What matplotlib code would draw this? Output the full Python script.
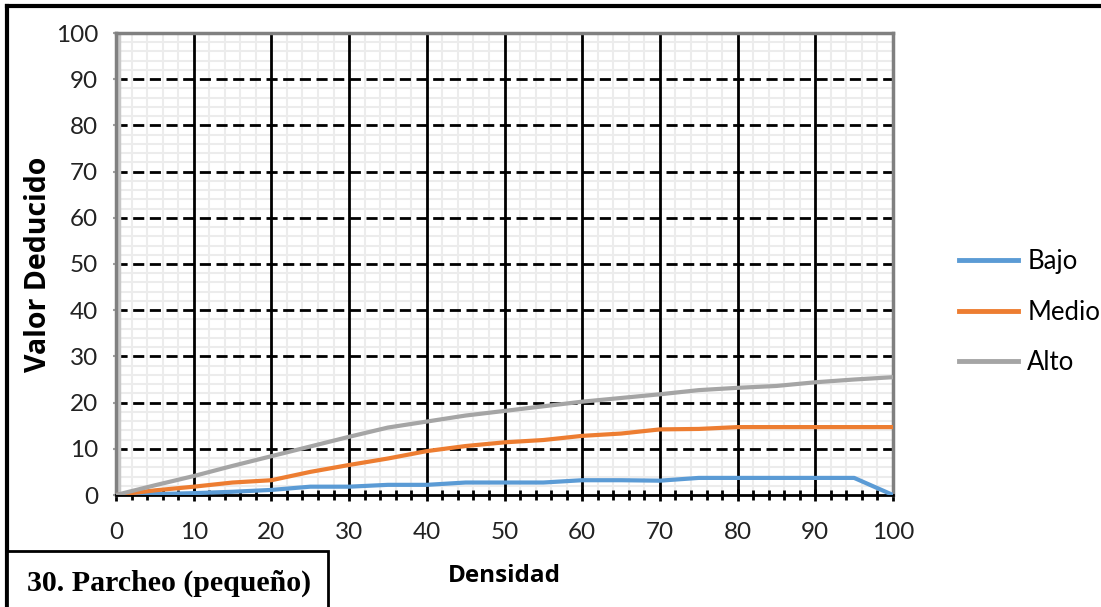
import matplotlib
matplotlib.use("Agg")
import matplotlib.pyplot as plt
from matplotlib.lines import Line2D
from matplotlib.patches import Rectangle

densidad = [0, 5, 10, 15, 20, 25, 30, 35, 40, 45, 50, 55, 60, 65, 70, 75, 80, 85, 90, 95, 100]
bajo = [0, 0.2, 0.4, 0.7, 1.1, 1.8, 1.8, 2.2, 2.2, 2.7, 2.7, 2.7, 3.2, 3.2, 3.1, 3.7, 3.7, 3.7, 3.7, 3.7, 0]
medio = [0, 1.0, 1.8, 2.7, 3.2, 5.0, 6.5, 7.9, 9.5, 10.6, 11.4, 11.9, 12.8, 13.3, 14.2, 14.3, 14.7, 14.7, 14.7, 14.7, 14.7]
alto = [0, 2.1, 4.1, 6.3, 8.4, 10.5, 12.6, 14.6, 15.9, 17.2, 18.2, 19.2, 20.2, 21.0, 21.8, 22.7, 23.2, 23.6, 24.4, 25.0, 25.5]
series_names = ["Bajo", "Medio", "Alto"]
ticks = list(range(0, 101, 10))
title_text = "30. Parcheo (pequeño)"

colors = ["#5b9bd5", "#ed7d31", "#a5a5a5"]

W, H = 1101, 607
fig = plt.figure(figsize=(W / 100, H / 100), dpi=100)
ax = fig.add_axes([116/W, 1-495/H, (893-116)/W, (495-33)/H])

# minor grid
for v in range(2, 100, 2):
    if v % 10:
        ax.axvline(v, color="#ececec", lw=1.5, zorder=0)
        ax.axhline(v, color="#ececec", lw=1.5, zorder=0)
for v in range(10, 100, 10):
    ax.axvline(v, color="black", lw=2, zorder=1)
    ax.axhline(v, color="black", lw=2, ls=(0, (4, 2)), zorder=1)

ax.axvline(0.4, color="#c8c8c8", lw=2.5, zorder=2)

for y, c, n in zip([bajo, medio, alto], colors, series_names):
    ax.plot(densidad, y, color=c, lw=3, label=n, zorder=3, solid_capstyle="round")

ax.set_xlim(0, 100)
ax.set_ylim(0, 100)
ax.set_xticks(ticks)
ax.set_yticks(ticks)
ax.set_xticks(range(0, 101, 2), minor=True)
ax.tick_params(axis="x", which="major", length=9, width=2, color="black", direction="inout", labelsize=17.5, pad=15)
ax.tick_params(axis="x", which="minor", length=7, width=2, color="black", direction="inout")
ax.tick_params(axis="y", which="major", length=4, width=1.5, color="#a0a0a0", direction="inout", labelsize=17.5, pad=11)
for lab in ax.get_xticklabels() + ax.get_yticklabels():
    lab.set_fontfamily("Lato")
    lab.set_color("#222222")

for s in ["top", "right", "left"]:
    ax.spines[s].set_color("#808080")
    ax.spines[s].set_linewidth(2.5)
ax.spines["bottom"].set_color("black")
ax.spines["bottom"].set_linewidth(2)

ax.set_xlabel("Densidad", fontsize=17.5, fontweight="bold", family="Open Sans", labelpad=15)
ax.set_ylabel("Valor Deducido", fontsize=20.5, fontweight="bold", family="Open Sans", labelpad=2)

handles = [Line2D([0], [0], color=c, lw=3.5) for c in colors]
leg = fig.legend(handles, series_names, loc="center left", bbox_to_anchor=(936/W, 1-312/H),
                 frameon=False, handlelength=2.3, labelspacing=1.0, handletextpad=0.35,
                 prop={"family": "Lato", "size": 18.5})

# outer border (top and left)
fig.lines.append(Line2D([7/W, 1], [1-6/H, 1-6/H], transform=fig.transFigure, color="black", lw=3))
fig.lines.append(Line2D([7/W, 7/W], [0, 1-6/H], transform=fig.transFigure, color="black", lw=3))
fig.patches.append(Rectangle((7/W, -0.01), (328-7)/W, (607-551)/H + 0.01,
                             transform=fig.transFigure, facecolor="white", edgecolor="black", lw=2, zorder=5))
fig.text(169/W, 1-583/H, title_text, ha="center", va="center", fontsize=21.5,
         fontweight="bold", family="Liberation Serif", zorder=6)

fig.savefig("out.png", dpi=100)
